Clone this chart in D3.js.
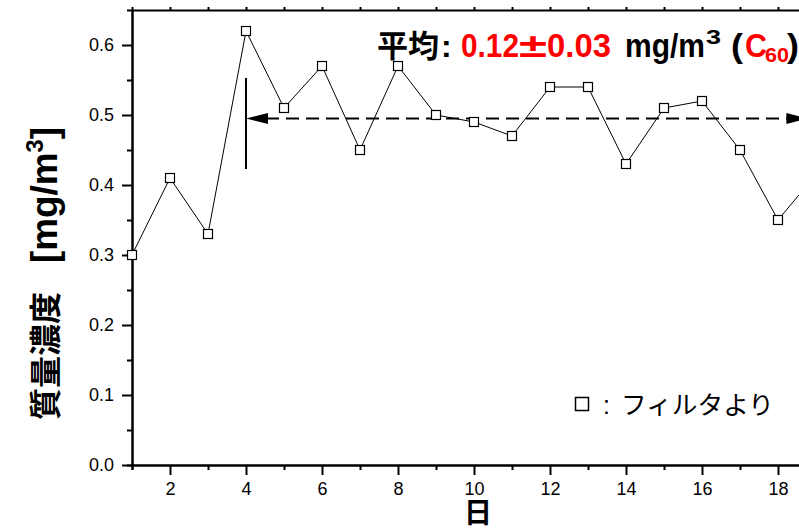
<!DOCTYPE html>
<html><head><meta charset="utf-8">
<script src="https://cdn.jsdelivr.net/npm/d3@7"></script>
<style>
html,body{margin:0;padding:0;background:#fff;}
svg{display:block;}
</style></head>
<body>
<svg id="chart" width="799" height="528"></svg>
<script>
// ---- data ----
const days = [1,2,3,4,5,6,7,8,9,10,11,12,13,14,15,16,17,18,19];
const concentration = [0.30,0.41,0.33,0.62,0.51,0.57,0.45,0.57,0.50,0.49,0.47,0.54,0.54,0.43,0.51,0.52,0.45,0.35,0.415];
const yTicks = [0.0,0.1,0.2,0.3,0.4,0.5,0.6];
const xTicks = [2,4,6,8,10,12,14,16,18];
const meanLevel = 0.495;       // dashed mean line
const meanStartDay = 4;
const meanEndDay = 18.8;
const meanBarRange = [0.423, 0.553];
const titleParts = ["平均", ":", "0.12", "±", "0.03", "mg/m", "3", "(", "C", "60", ")"];
const yTitleParts = ["質量濃度", "[mg/m", "3", "]"];
const xTitle = "日";
const legendLabel = "フィルタより";

const svg = d3.select("#chart");
const latin = "'Liberation Sans', Arial, sans-serif";
const cjk = "'Noto Sans CJK JP', sans-serif";

const x = d3.scaleLinear().domain([1, 20]).range([132, 854]);
const y = d3.scaleLinear().domain([0, 0.65]).range([465, 10]);

// ---- axes ----
function styleAxis(g){
  g.attr("font-size",null).attr("font-family",null);
  g.selectAll("path.domain").attr("stroke","#000").attr("stroke-width",2);
  g.selectAll(".tick line").attr("stroke","#000").attr("stroke-width",2);
  g.selectAll(".tick text").attr("fill","#000").style("font-family",latin).style("font-size","18px");
}
// minor ticks
svg.append("g").attr("transform","translate(132,0)")
  .call(d3.axisLeft(y).tickValues(d3.range(0.05,0.65,0.1)).tickSize(5).tickFormat(""))
  .call(styleAxis);
svg.append("g").attr("transform","translate(0,465)")
  .call(d3.axisBottom(x).tickValues(d3.range(1,20,2)).tickSize(5).tickFormat(""))
  .call(styleAxis);
// major
svg.append("g").attr("transform","translate(132,0)")
  .call(d3.axisLeft(y).tickValues(yTicks).tickSize(10).tickSizeOuter(0).tickPadding(8).tickFormat(d3.format(".1f")))
  .call(styleAxis);
svg.append("g").attr("transform","translate(0,465)")
  .call(d3.axisBottom(x).tickValues(xTicks).tickSize(10).tickSizeOuter(0).tickPadding(7))
  .call(styleAxis);
svg.append("g").attr("transform","translate(0,10)")
  .call(d3.axisTop(x).tickValues(d3.range(1,21,1)).tickSize(3).tickSizeOuter(0).tickFormat(""))
  .call(styleAxis);

// ---- series ----
const pts = days.map((d,i)=>({d, v: concentration[i]}));
svg.append("path").datum(pts)
  .attr("fill","none").attr("stroke","#000").attr("stroke-width",1)
  .attr("d", d3.line().x(p=>x(p.d)).y(p=>y(p.v)));

// ---- mean line with arrows ----
const yMean = y(meanLevel);
const xa = x(meanStartDay), xb = x(meanEndDay);
const aL = 22, aH = 5.5;
svg.append("line").attr("x1",xa+aL-2).attr("x2",xb-aL+2).attr("y1",yMean).attr("y2",yMean)
  .attr("stroke","#000").attr("stroke-width",2).attr("stroke-dasharray","13,7");
svg.append("path").attr("d",`M${xa},${yMean}L${xa+aL},${yMean-aH}L${xa+aL},${yMean+aH}Z`).attr("fill","#000");
svg.append("path").attr("d",`M${xb},${yMean}L${xb-aL},${yMean-aH}L${xb-aL},${yMean+aH}Z`).attr("fill","#000");
svg.append("line").attr("x1",xa).attr("x2",xa).attr("y1",y(meanBarRange[0])).attr("y2",y(meanBarRange[1]))
  .attr("stroke","#000").attr("stroke-width",2);

// markers
svg.selectAll("rect.mk").data(pts).join("rect").attr("class","mk")
  .attr("x",p=>x(p.d)-4.5).attr("y",p=>y(p.v)-4.5).attr("width",9).attr("height",9)
  .attr("fill","#fff").attr("stroke","#000").attr("stroke-width",1.2);

// ---- title ----
const tg = svg.append("g").style("font-weight","bold");
const base = 56.5;
function tt(str,xp,yp,size,fam,col,len){
  const t = tg.append("text").attr("x",xp).attr("y",yp).text(str)
    .style("font-family",fam).style("font-size",size+"px").attr("fill",col);
  if(len) t.attr("textLength",len).attr("lengthAdjust","spacingAndGlyphs");
  return t;
}
tt(titleParts[0],377,base,31,cjk,"#000");
tt(titleParts[1],441,base,32,latin,"#000");
tt(titleParts[2],461,base,33,latin,"#f00",58);
tt(titleParts[3],519,base,33,latin,"#f00",28);
tt(titleParts[4],547,base,33,latin,"#f00",64);
tt(titleParts[5],625,base,33,latin,"#000",80);
tt(titleParts[6],706,base-13,21,latin,"#000",15);
tt(titleParts[7],731,base,33,latin,"#000",12);
tt(titleParts[8],745,base,33,latin,"#f00",22);
tt(titleParts[9],765,base+5,21,latin,"#f00",24);
tt(titleParts[10],787,base,33,latin,"#000",12);

// ---- y title ----
const yt = svg.append("g").attr("transform","translate(57,420) rotate(-90)").style("font-weight","bold").attr("fill","#000");
yt.append("text").attr("x",0).attr("y",0).text(yTitleParts[0]).style("font-family",cjk).style("font-size","32px");
const yt2 = yt.append("text").attr("x",157).attr("y",0).style("font-family",latin).style("font-size","36px")
  .attr("textLength",136).attr("lengthAdjust","spacingAndGlyphs");
yt2.append("tspan").text(yTitleParts[1]);
yt2.append("tspan").attr("dy",-14).style("font-size","23px").text(yTitleParts[2]);
yt2.append("tspan").attr("dy",14).text(yTitleParts[3]);

// ---- x title ----
svg.append("text").attr("x",478).attr("y",523).attr("text-anchor","middle").text(xTitle)
  .style("font-family",cjk).style("font-size","28px").style("font-weight","bold");

// ---- legend ----
svg.append("rect").attr("x",575.5).attr("y",397.5).attr("width",13).attr("height",13)
  .attr("fill","#fff").attr("stroke","#000").attr("stroke-width",1.5);
svg.append("text").attr("x",603).attr("y",414).text(":").style("font-family",latin).style("font-size","25px");
svg.append("text").attr("x",621).attr("y",414).text(legendLabel).style("font-family",cjk).style("font-size","25px")
  .attr("textLength",153).attr("lengthAdjust","spacingAndGlyphs");
</script>
</body></html>
